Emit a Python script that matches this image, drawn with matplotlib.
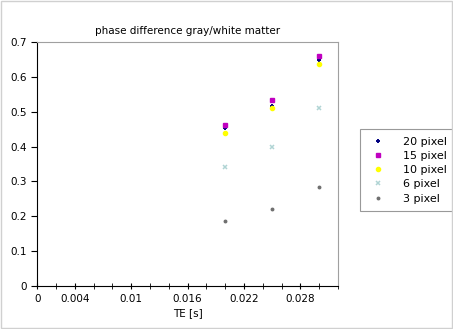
import numpy as np
import matplotlib
matplotlib.use('Agg')
import matplotlib.pyplot as plt

# echo times and phase differences per ROI size
te = [0.020, 0.025, 0.030]
px20 = [0.454, 0.517, 0.650]
px15 = [0.463, 0.533, 0.659]
px10 = [0.438, 0.510, 0.636]
px6 = [0.342, 0.400, 0.512]
px3 = [0.186, 0.220, 0.284]

labels = ['20 pixel', '15 pixel', '10 pixel', '6 pixel', '3 pixel']
xtick_vals = [0, 0.004, 0.01, 0.016, 0.022, 0.028]
xtick_labels = ['0', '0.004', '0.01', '0.016', '0.022', '0.028']

plt.rcParams['font.size'] = 7.5

fig = plt.figure(figsize=(4.53, 3.29), dpi=100)
ax = fig.add_axes([0.082, 0.131, 0.664, 0.741])

ax.plot(te, px20, linestyle='none', marker='+', color='#000080', ms=3.5, mew=1.4, label=labels[0])
ax.plot(te, px15, linestyle='none', marker='s', color='#c000c0', ms=3.2, label=labels[1])
ax.plot(te, px10, linestyle='none', marker='o', color='#ffff00', ms=3, label=labels[2])
ax.plot(te, px6, linestyle='none', marker='x', color='#b0d4d4', ms=3.5, mew=1.1, label=labels[3])
ax.plot(te, px3, linestyle='none', marker='o', color='#707070', ms=1.8, label=labels[4])

ax.set_xlim(0, 0.032)
ax.set_ylim(0, 0.7)
ax.set_xticks(np.arange(0, 0.0321, 0.002), minor=True)
ax.set_xticks(xtick_vals)
ax.set_xticklabels(xtick_labels)
ax.set_yticks(np.arange(0, 0.71, 0.1))
ax.set_yticklabels(['0', '0.1', '0.2', '0.3', '0.4', '0.5', '0.6', '0.7'])

ax.tick_params(axis='x', which='both', direction='inout', length=4, color='black')
ax.tick_params(axis='y', direction='out', length=4)

ax.spines['top'].set_color('#a0a0a0')
ax.spines['right'].set_color('#a0a0a0')

ax.set_title('phase difference gray/white matter', fontsize=7.5, pad=6)
ax.set_xlabel('TE [s]', labelpad=3)

leg = ax.legend(loc='center left', bbox_to_anchor=(1.055, 0.475), fancybox=False,
                edgecolor='#808080', handletextpad=1.3, borderpad=0.7,
                labelspacing=0.38, handlelength=1.9, fontsize=8)
leg.get_frame().set_linewidth(0.8)

fig.patches.append(plt.Rectangle((0.002, 0.003), 0.996, 0.994, transform=fig.transFigure,
                                 fill=False, edgecolor='#d0d0d0', linewidth=1))

fig.savefig('out.png', dpi=100)
